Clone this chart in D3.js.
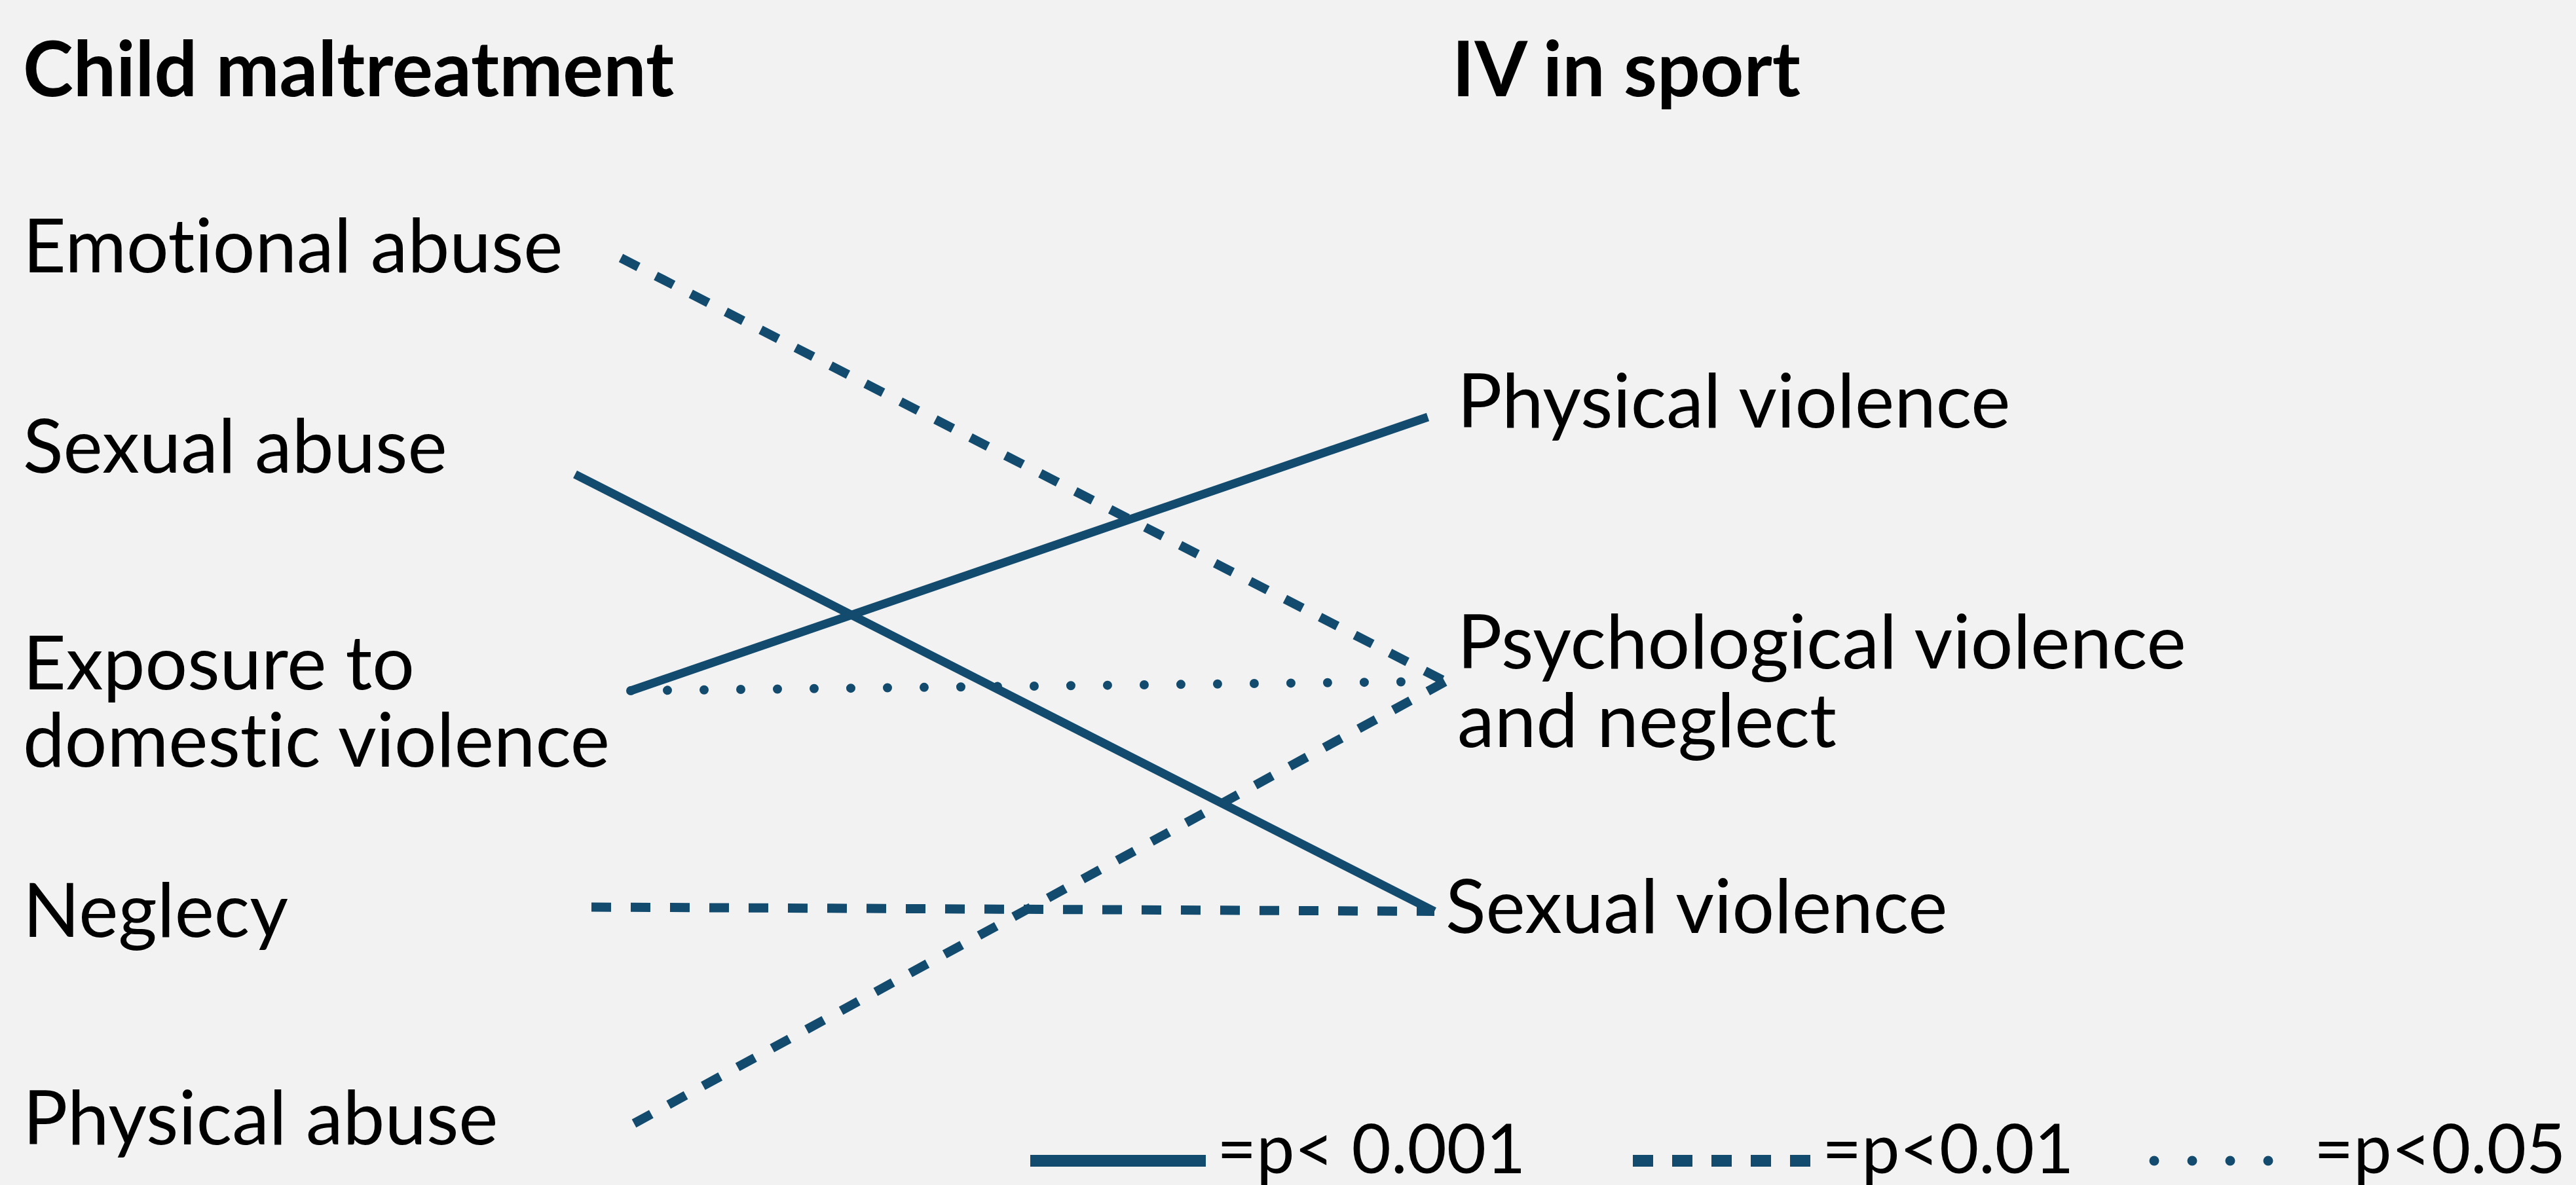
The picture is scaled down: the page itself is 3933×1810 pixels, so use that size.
<!DOCTYPE html>
<html>
<head>
<meta charset="utf-8">
<script src="https://cdn.jsdelivr.net/npm/d3@7"></script>
<style>
  html, body { margin: 0; padding: 0; background: #f2f2f2; }
  svg { display: block; font-family: Lato, "Open Sans", sans-serif; font-variant-ligatures: none; }
  .label { font-size: 114px; fill: #000; }
  .legend-text { font-size: 104px; fill: #000; }
  .head { font-size: 116px; font-weight: 700; fill: #000; }
</style>
</head>
<body>
<div id="chart"></div>
<script>
// data
const leftCats = ["Emotional abuse", "Sexual abuse", "Exposure to domestic violence", "Neglecy", "Physical abuse"];
const leftLines = [["Emotional abuse"], ["Sexual abuse"], ["Exposure to", "domestic violence"], ["Neglecy"], ["Physical abuse"]];
const rightCats = ["Physical violence", "Psychological violence and neglect", "Sexual violence"];
const rightLines = [["Physical violence"], ["Psychological violence", "and neglect"], ["Sexual violence"]];
const linkFrom = ["Emotional abuse", "Sexual abuse", "Exposure to domestic violence", "Exposure to domestic violence", "Neglecy", "Physical abuse"];
const linkTo = ["Psychological violence and neglect", "Sexual violence", "Physical violence", "Psychological violence and neglect", "Sexual violence", "Psychological violence and neglect"];
const linkSig = ["p<0.01", "p<0.001", "p<0.001", "p<0.05", "p<0.01", "p<0.01"];
const sigLevels = ["p<0.001", "p<0.01", "p<0.05"];
const legendText = ["=p< 0.001", "=p<0.01", "=p<0.05"];

// layout
const width = 3933, height = 1810;
const color = "#134b6e";
const leftLabelBase = [416, 722, 1053, 1431, 1748];
const rightLabelBase = [653, 1021, 1425];
const rightLabelX = [2225, 2225, 2207];
const leftStartX = [948, 878, 963, 903, 968];
const linkEndX = [2207, 2190, 2180, 2182, 2190, 2207];
const lineH = 118;

const svg = d3.select("#chart")
              .append("svg")
              .attr("width", width)
              .attr("height", height)
              .attr("viewBox", `0 0 ${width} ${height}`);

svg.append("rect").attr("width", width).attr("height", height).attr("fill", "#f2f2f2");

const yLeft = d3.scalePoint().domain(leftCats).range([394, 1716]);
const yRight = d3.scaleOrdinal().domain(rightCats).range([637, 1041, 1392]);
const xStart = d3.scaleOrdinal().domain(leftCats).range(leftStartX);

// line styles per significance level
const dash = d3.scaleOrdinal().domain(sigLevels).range([null, "30 30", "0 56"]);
const cap = d3.scaleOrdinal().domain(sigLevels).range(["butt", "butt", "round"]);
const sw = d3.scaleOrdinal().domain(sigLevels).range([13, 14, 14]);

// headers
svg.append("text").attr("class", "head").attr("x", 35).attr("y", 147).text("Child maltreatment");
svg.append("text").attr("class", "head").attr("x", 2217).attr("y", 147).text("IV in sport");

// left labels
svg.selectAll(".left")
   .data(leftLines)
   .join("text")
   .attr("class", "label left")
   .attr("y", (d, i) => leftLabelBase[i])
   .selectAll("tspan")
   .data(d => d)
   .join("tspan")
   .attr("x", 35)
   .attr("dy", (d, i) => i ? lineH : 0)
   .text(d => d);

// right labels
svg.selectAll(".right")
   .data(rightLines)
   .join("text")
   .attr("class", "label right")
   .attr("y", (d, i) => rightLabelBase[i])
   .each(function(d, i) {
       d3.select(this)
         .selectAll("tspan")
         .data(d)
         .join("tspan")
         .attr("x", rightLabelX[i])
         .attr("dy", (t, j) => j ? lineH + 2 : 0)
         .text(t => t);
   });

// links
const links = linkFrom.map((f, i) => ({ from: f, to: linkTo[i], sig: linkSig[i], x2: linkEndX[i] }));

svg.selectAll(".link")
   .data(links)
   .join("line")
   .attr("class", "link")
   .attr("x1", d => xStart(d.from))
   .attr("y1", d => yLeft(d.from))
   .attr("x2", d => d.x2)
   .attr("y2", d => yRight(d.to))
   .attr("stroke", color)
   .attr("stroke-width", d => sw(d.sig))
   .attr("stroke-dasharray", d => dash(d.sig))
   .attr("stroke-linecap", d => cap(d.sig));

// legend
const legX = [1573, 2493, 3281];
const legW = [268, 272, 240];
const legDash = [null, "31 29", "0 58"];
const legY = 1773;

const leg = svg.selectAll(".leg")
               .data(sigLevels)
               .join("g")
               .attr("class", "leg");

leg.append("line")
   .attr("x1", (d, i) => legX[i] + (i === 2 ? 8 : 0))
   .attr("x2", (d, i) => legX[i] + legW[i])
   .attr("y1", legY)
   .attr("y2", legY)
   .attr("stroke", color)
   .attr("stroke-width", (d, i) => i === 2 ? 15 : 18)
   .attr("stroke-dasharray", (d, i) => legDash[i])
   .attr("stroke-linecap", (d, i) => i === 2 ? "round" : "butt");

leg.append("text")
   .attr("class", "legend-text")
   .attr("x", (d, i) => legX[i] + legW[i] + (i === 2 ? 12 : 17))
   .attr("y", 1792)
   .text((d, i) => legendText[i]);
</script>
</body>
</html>
